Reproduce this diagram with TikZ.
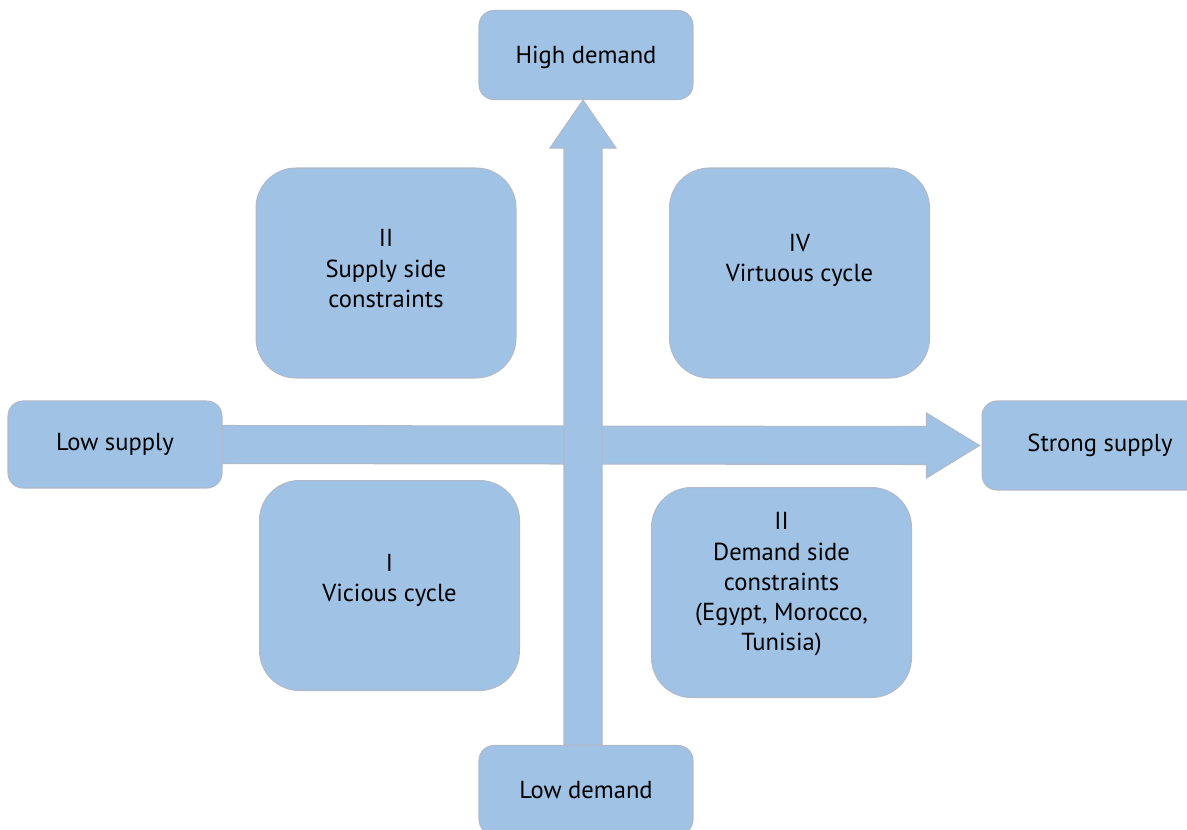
\documentclass[tikz,border=0pt]{standalone}
\usepackage{fontspec}
\setmainfont{PT Sans}
\usetikzlibrary{calc}

\definecolor{boxblue}{HTML}{9FC2E5}
\definecolor{boxline}{HTML}{B0BACB}

\tikzset{
    axisbox/.style={draw=boxline, fill=boxblue, line width=0.6pt, rounded corners=0.3cm,
        minimum width=4.28cm, minimum height=1.78cm, font=\fontsize{14}{17}\selectfont},
    quadbox/.style={draw=boxline, fill=boxblue, line width=0.6pt, rounded corners=0.8cm,
        minimum width=5.2cm, minimum height=4.2cm, align=center,
        font=\fontsize{14}{17.2}\selectfont},
    fatarrow/.style={draw=boxline, fill=boxblue, line width=0.6pt}
}

\begin{document}
\begin{tikzpicture}[x=0.02cm, y=-0.02cm]
        \clip (0,0) rectangle (1187,829);

        % axis ends
        \node[axisbox, text depth=0cm] (high) at (586,55) {High demand};
        \node[axisbox] (low) at (586,790) {Low demand};
        \node[axisbox, minimum height=1.74cm] (lowsup) at (115,444.5) {Low supply};
        \node[axisbox, minimum width=4.72cm] (strongsup) at (1100,445.5) {Strong supply};

        % quadrants
        \node[quadbox, text depth=0.18cm] (supply) at (386,273) {II\\Supply side\\constraints};
        \node[quadbox, text depth=0.6cm] (virtuous) at (799.5,273) {IV\\Virtuous cycle};
        \node[quadbox, text depth=0.31cm] (vicious) at (389.5,585.5) {I\\Vicious cycle};
        \node[quadbox, text depth=0.43cm] (demand) at (781.5,592.5) {II\\Demand side\\constraints\\(Egypt, Morocco,\\Tunisia)};

        % supply axis
        \filldraw[fatarrow] ($(lowsup.east)+(0,-19)$) -- ($(strongsup.west)+(-55,-19)$)
            -- ($(strongsup.west)+(-55,-32.5)$) -- ($(strongsup.west)+(-2,0)$)
            -- ($(strongsup.west)+(-55,32.5)$) -- ($(strongsup.west)+(-55,19)$)
            -- ($(lowsup.east)+(0,19)$) -- cycle;

        % demand axis
        \filldraw[fatarrow] ($(low.north)+(-22,0)$) -- ($(high.south)+(-22,48)$)
            -- ($(high.south)+(-36,48)$) -- ($(high.south)+(-3,0)$)
            -- ($(high.south)+(30,48)$) -- ($(high.south)+(16,48)$)
            -- ($(low.north)+(16,0)$) -- cycle;
\end{tikzpicture}
\end{document}
